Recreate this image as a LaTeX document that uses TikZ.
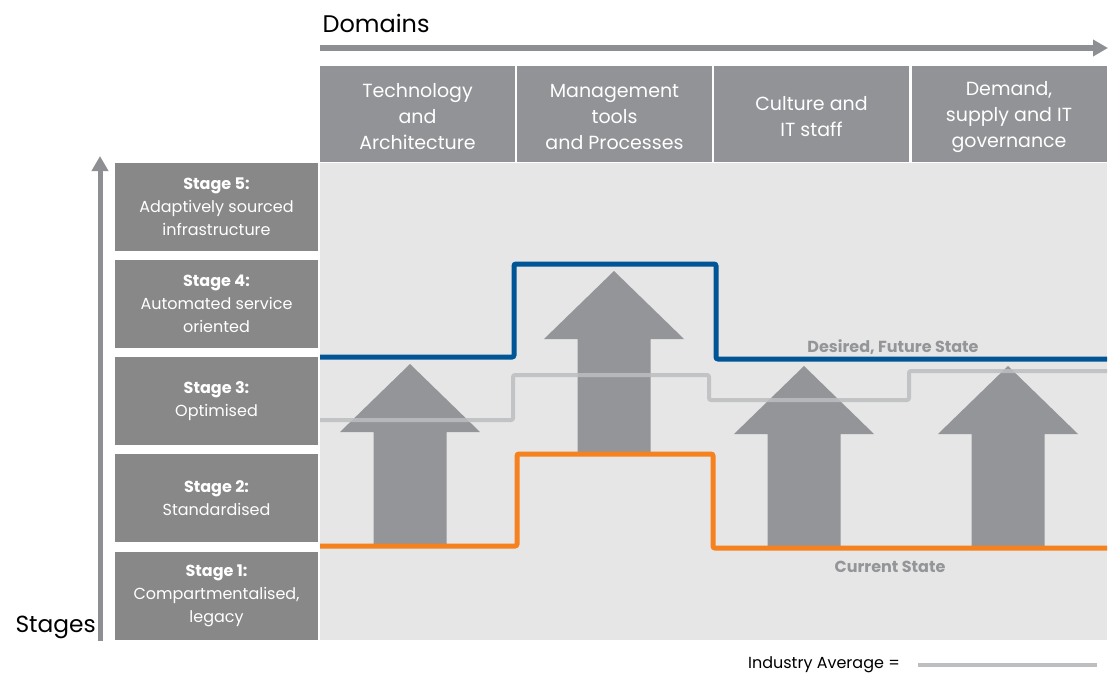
\documentclass[tikz,border=0pt]{standalone}
\usepackage{fontspec}
\setmainfont{Poppins}
\usetikzlibrary{arrows.meta,positioning}
\definecolor{headgray}{RGB}{146,147,150}
\definecolor{stagegray}{RGB}{136,136,136}
\definecolor{panelgray}{RGB}{229,230,229}
\definecolor{arrowgray}{RGB}{147,149,152}
\definecolor{axisgray}{RGB}{142,143,146}
\definecolor{avggray}{RGB}{189,190,192}
\definecolor{futureblue}{RGB}{0,85,150}
\definecolor{currentorange}{RGB}{245,130,31}
\begin{document}
\begin{tikzpicture}
[x=1pt,y=-1pt,
  domainbox/.style={fill=headgray,minimum width=195pt,minimum height=96pt,inner sep=0pt},
  domaintext/.style={text=white,inner sep=0pt,align=center,font=\fontsize{19}{26}\selectfont},
  stagebox/.style={fill=stagegray,text=white,minimum width=203pt,minimum height=88pt,
    inner sep=0pt,align=center,font=\fontsize{16}{23}\selectfont},
  axisarrow/.style={draw=axisgray,-{Triangle[length=15pt,width=16pt]}},
  stateline/.style={line width=5pt,rounded corners=2pt},
  statelabel/.style={text=arrowgray,font=\fontsize{16}{18}\selectfont\bfseries},
  avgline/.style={draw=avggray,line width=4pt}]
\useasboundingbox (0,0) rectangle (1114,677);
%% axes
\coordinate (dstart) at (320,48);
\coordinate (dend) at (1108,48);
\draw[axisarrow,line width=6pt] (dstart) -- (dend);
\node (domains) at (319,33) [anchor=base west,font=\fontsize{24}{28}\selectfont] {Domains};
\coordinate (sstart) at (100,641);
\coordinate (send) at (100,156);
\draw[axisarrow,line width=5pt] (sstart) -- (send);
\node (stages) at (12,632) [anchor=base west,font=\fontsize{23.3}{28}\selectfont] {Stages};
%% panel
\fill[panelgray] (320,163) rectangle (1107,640);
%% domains
\foreach \nodename/\text/\x in {tech/{Technology\\and\\Architecture}/417.5,
  mgmt/{Management\\tools\\and Processes}/614.5, culture/{Culture and\\IT staff}/811.5,
  demand/{Demand,\\supply and IT\\governance}/1009} {
  \node (\nodename) at (\x,114) [domainbox] {};
  \node (\nodename-text) at ([yshift=-3pt]\nodename.center) [domaintext] {\text};
}
%% stages
\foreach \nodename/\num/\text/\y in {sfive/5/{Adaptively sourced\\infrastructure}/207,
  sfour/4/{Automated service\\oriented}/304, sthree/3/{Optimised}/401,
  stwo/2/{Standardised}/498, sone/1/{Compartmentalised,\\legacy}/595.5} {
  \node (\nodename) at (216.5,\y) [stagebox] {\textbf{Stage \num:}\\\text};
}
%% improvement arrows
\foreach \x/\ybot in {410/545, 614/452, 804/547, 1008/547} {
  \fill[arrowgray] (\x-36.5,\ybot) -- (\x+36.5,\ybot) -- (\x+36.5,\ybot-113)
    -- (\x+70,\ybot-113) -- (\x,\ybot-181) -- (\x-70,\ybot-113)
    -- (\x-36.5,\ybot-113) -- cycle;
}
%% state lines
\draw[avgline,rounded corners=2pt,opacity=0.85] (320,420) -- (513,420) -- (513,375)
  -- (709,375) -- (709,400) -- (909,400) -- (909,371) -- (1107,371);
\draw[stateline,futureblue] (320,357) -- (514,357) -- (514,264) -- (716,264)
  -- (716,359) -- (1107,359);
\draw[stateline,currentorange] (320,546) -- (517,546) -- (517,454) -- (713,454)
  -- (713,548) -- (1107,548);
\node (desired) at (893,347) [statelabel] {Desired, Future State};
\node (current) at (890,567) [statelabel] {Current State};
%% legend
\node (avg) at (824,665) [font=\fontsize{16}{18}\selectfont] {Industry Average =};
\coordinate (avgend) at (1097,665);
\draw[avgline] (avg.east) ++(15,0) -- (avgend);
\end{tikzpicture}
\end{document}
